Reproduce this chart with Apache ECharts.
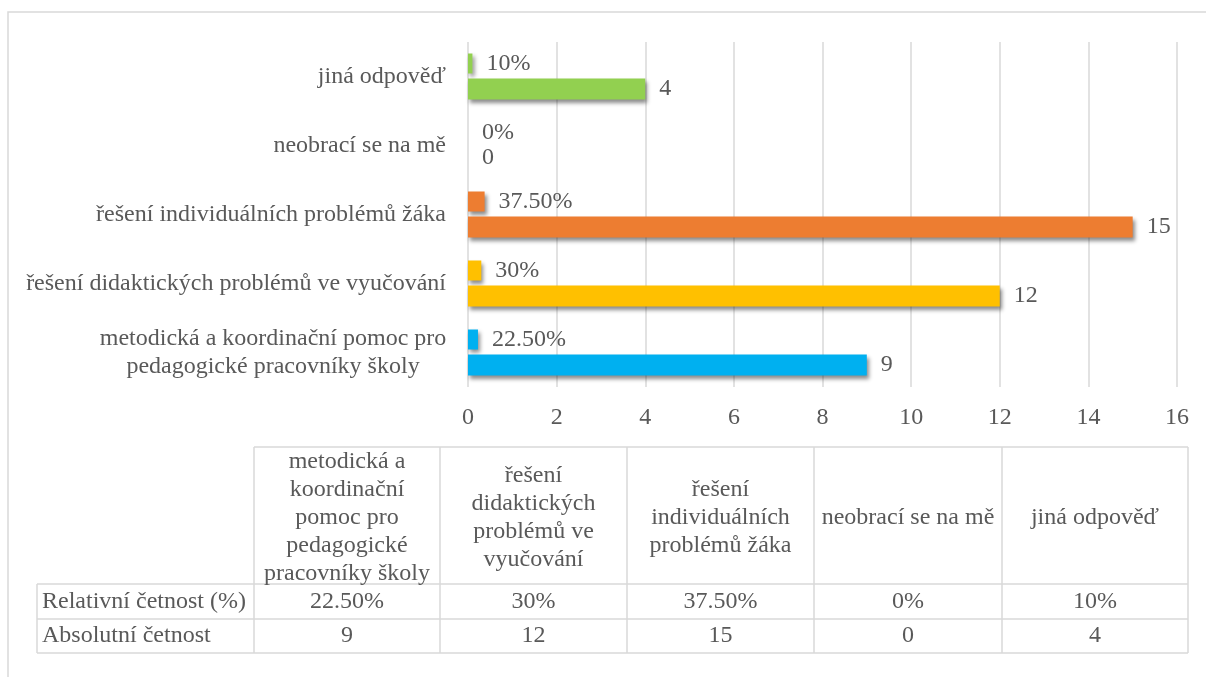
<!DOCTYPE html>
<html>
<head>
<meta charset="utf-8">
<style>
  html, body { margin: 0; padding: 0; background: #fff; }
  #chart { width: 1206px; height: 677px; }
</style>
<script src="https://cdn.jsdelivr.net/npm/echarts@6/dist/echarts.min.js"></script>
</head>
<body>
<div id="chart"></div>
<script>
// kategorie odpovědí (odspodu nahoru)
var categories = [
  'metodická a koordinační pomoc pro pedagogické pracovníky školy',
  'řešení didaktických problémů ve vyučování',
  'řešení individuálních problémů žáka',
  'neobrací se na mě',
  'jiná odpověď'
];
// popisky osy y (zalomení jako v obrázku)
var axisLabels = [
  'metodická a koordinační pomoc pro\npedagogické pracovníky školy',
  'řešení didaktických problémů ve vyučování',
  'řešení individuálních problémů žáka',
  'neobrací se na mě',
  'jiná odpověď'
];
// záhlaví tabulky (zalomení v buňkách)
var tableHeads = [
  'metodická a\nkoordinační\npomoc pro\npedagogické\npracovníky školy',
  'řešení\ndidaktických\nproblémů ve\nvyučování',
  'řešení\nindividuálních\nproblémů žáka',
  'neobrací se na mě',
  'jiná odpověď'
];
var relValues = [0.225, 0.3, 0.375, 0, 0.1];
var relText = ['22.50%', '30%', '37.50%', '0%', '10%'];
var absValues = [9, 12, 15, 0, 4];
var rowNames = ['Relativní četnost (%)', 'Absolutní četnost'];
var colors = ['#00B0F0', '#FFC000', '#ED7D31', '#A5A5A5', '#92D050'];

var FONT = '"Liberation Serif", "Times New Roman", serif';
var TXT = '#595959';
var LINE = '#d9d9d9';

var chart = echarts.init(document.getElementById('chart'));

var shadow = {
  shadowColor: 'rgba(0,0,0,0.45)',
  shadowBlur: 4,
  shadowOffsetX: 2,
  shadowOffsetY: 3
};

function barData(values) {
  var out = [];
  for (var i = 0; i < values.length; i++) {
    out.push({ value: values[i], itemStyle: { color: colors[i] } });
  }
  return out;
}

// tabulka pod grafem - čáry a texty
var colX = [37, 254, 440, 627, 814, 1002, 1188];
var rowY = [447, 584, 619, 653];
var graphics = [];

function hline(x1, x2, y) {
  graphics.push({ type: 'line', shape: { x1: x1, y1: y, x2: x2, y2: y }, style: { stroke: LINE, lineWidth: 1.5 } });
}
function vline(x, y1, y2) {
  graphics.push({ type: 'line', shape: { x1: x, y1: y1, x2: x, y2: y2 }, style: { stroke: LINE, lineWidth: 1.5 } });
}
function cellText(text, x, y, align) {
  graphics.push({
    type: 'text',
    style: {
      text: text, x: x, y: y, font: '24px ' + FONT, fill: TXT,
      textAlign: align, textVerticalAlign: 'middle', lineHeight: 28
    }
  });
}

// rámeček celé plochy
graphics.push({ type: 'rect', shape: { x: 8, y: 12, width: 1300, height: 800 }, style: { fill: 'none', stroke: LINE, lineWidth: 1.5 } });

hline(colX[1], colX[6], rowY[0]);
hline(colX[0], colX[6], rowY[1]);
hline(colX[0], colX[6], rowY[2]);
hline(colX[0], colX[6], rowY[3]);
vline(colX[0], rowY[1], rowY[3]);
for (var c = 1; c < colX.length; c++) {
  vline(colX[c], rowY[0], rowY[3]);
}
for (var j = 0; j < categories.length; j++) {
  var cx = (colX[j + 1] + colX[j + 2]) / 2;
  cellText(tableHeads[j], cx, (rowY[0] + rowY[1]) / 2 + 2, 'center');
  cellText(relText[j], cx, (rowY[1] + rowY[2]) / 2, 'center');
  cellText(String(absValues[j]), cx, (rowY[2] + rowY[3]) / 2, 'center');
}
cellText(rowNames[0], colX[0] + 5, (rowY[1] + rowY[2]) / 2, 'left');
cellText(rowNames[1], colX[0] + 5, (rowY[2] + rowY[3]) / 2, 'left');

var option = {
  animation: false,
  grid: { left: 468, right: 29, top: 42, height: 345 },
  xAxis: {
    type: 'value',
    min: 0,
    max: 16,
    interval: 2,
    axisLine: { show: false },
    axisTick: { show: false },
    axisLabel: { color: TXT, fontFamily: FONT, fontSize: 24, margin: 19 },
    splitLine: { lineStyle: { color: LINE, width: 1.5 } }
  },
  yAxis: {
    type: 'category',
    data: categories,
    axisLine: { show: false },
    axisTick: { show: false },
    axisLabel: {
      margin: 22,
      color: TXT,
      fontFamily: FONT,
      fontSize: 24,
      lineHeight: 28,
      formatter: function(value, idx) {
        var parts = axisLabels[idx].split('\n');
        if (parts.length === 1) return parts[0];
        return parts.map(function(p) { return '{c|' + p + '}'; }).join('\n');
      },
      rich: {
        c: { width: 346, align: 'center', color: TXT, fontFamily: FONT, fontSize: 24, lineHeight: 28 }
      }
    }
  },
  series: [
    {
      name: 'Relativní četnost (%)',
      type: 'bar',
      barWidth: 20,
      barGap: '25%',
      data: barData(relValues),
      itemStyle: shadow,
      label: {
        show: true, position: 'right', distance: 14,
        color: TXT, fontFamily: FONT, fontSize: 24,
        formatter: function(p) { return relText[p.dataIndex]; }
      }
    },
    {
      name: 'Absolutní četnost',
      type: 'bar',
      barWidth: 21,
      barGap: '25%',
      data: barData(absValues),
      itemStyle: shadow,
      label: {
        show: true, position: 'right', distance: 14,
        color: TXT, fontFamily: FONT, fontSize: 24
      }
    }
  ],
  graphic: graphics
};

chart.setOption(option);
window.onresize = chart.resize;
</script>
</body>
</html>
